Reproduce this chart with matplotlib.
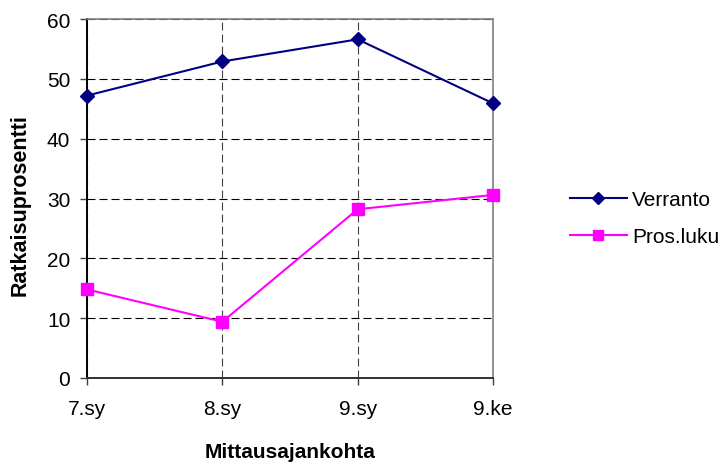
import matplotlib
matplotlib.use("Agg")
import matplotlib.pyplot as plt

plt.rcParams['font.family'] = ['Liberation Sans', 'DejaVu Sans']

categories = ["7.sy", "8.sy", "9.sy", "9.ke"]
verranto = [47.2, 52.9, 56.6, 45.9]
pros_luku = [14.8, 9.4, 28.2, 30.6]

W, H = 719, 464
fig = plt.figure(figsize=(W / 100, H / 100), dpi=100)
# plot area in pixel coordinates: x 87..493, y 20..379 (from top)
ax = fig.add_axes([87 / W, 1 - 379 / H, (493 - 87) / W, (379 - 20) / H])

x = list(range(len(categories)))
ax.plot(x, verranto, color="#000080", marker="D", markersize=7, linewidth=1.5,
        label="Verranto", zorder=3, clip_on=False)
ax.plot(x, pros_luku, color="#FF00FF", marker="s", markersize=8, linewidth=1.5,
        label="Pros.luku", zorder=3, clip_on=False)

ax.set_xlim(0, len(categories) - 1)
ax.set_ylim(0, 60)
ax.set_yticks(range(0, 61, 10))
ax.set_xticks(x)
ax.set_xticklabels(categories)

ax.grid(axis="y", color="black", linestyle=(0, (7.2, 3.6)), linewidth=0.8)
ax.grid(axis="x", color="#404040", linestyle=(0, (7.2, 3.6)), linewidth=0.8)

for side in ["top", "right"]:
    ax.spines[side].set_color("#808080")
    ax.spines[side].set_linewidth(1.2)
ax.spines["bottom"].set_color("#303030")
ax.spines["bottom"].set_linewidth(1.4)
ax.spines["left"].set_color("black")
ax.spines["left"].set_linewidth(1.4)

ax.tick_params(axis="both", direction="out", length=5, width=1, labelsize=15,
               color="#404040")
ax.tick_params(axis="x", pad=10)
ax.tick_params(axis="y", pad=7)

ax.set_xlabel("Mittausajankohta", fontsize=15, fontweight="bold")
ax.set_ylabel("Ratkaisuprosentti", fontsize=15.5, fontweight="bold")
ax.xaxis.set_label_coords(0.5, (379 - 453) / (379 - 20))
ax.yaxis.set_label_coords((20 - 87) / (493 - 87), 0.485)
ax.xaxis.label.set_va("center")
ax.yaxis.label.set_va("center")

leg = fig.legend(loc="center left", bbox_to_anchor=(562 / W, 1 - 219 / H), frameon=False,
                 borderaxespad=0, fontsize=15, handlelength=2.7, labelspacing=0.85,
                 handletextpad=0.25, markerscale=0.9)

fig.savefig("out.png", dpi=100)
